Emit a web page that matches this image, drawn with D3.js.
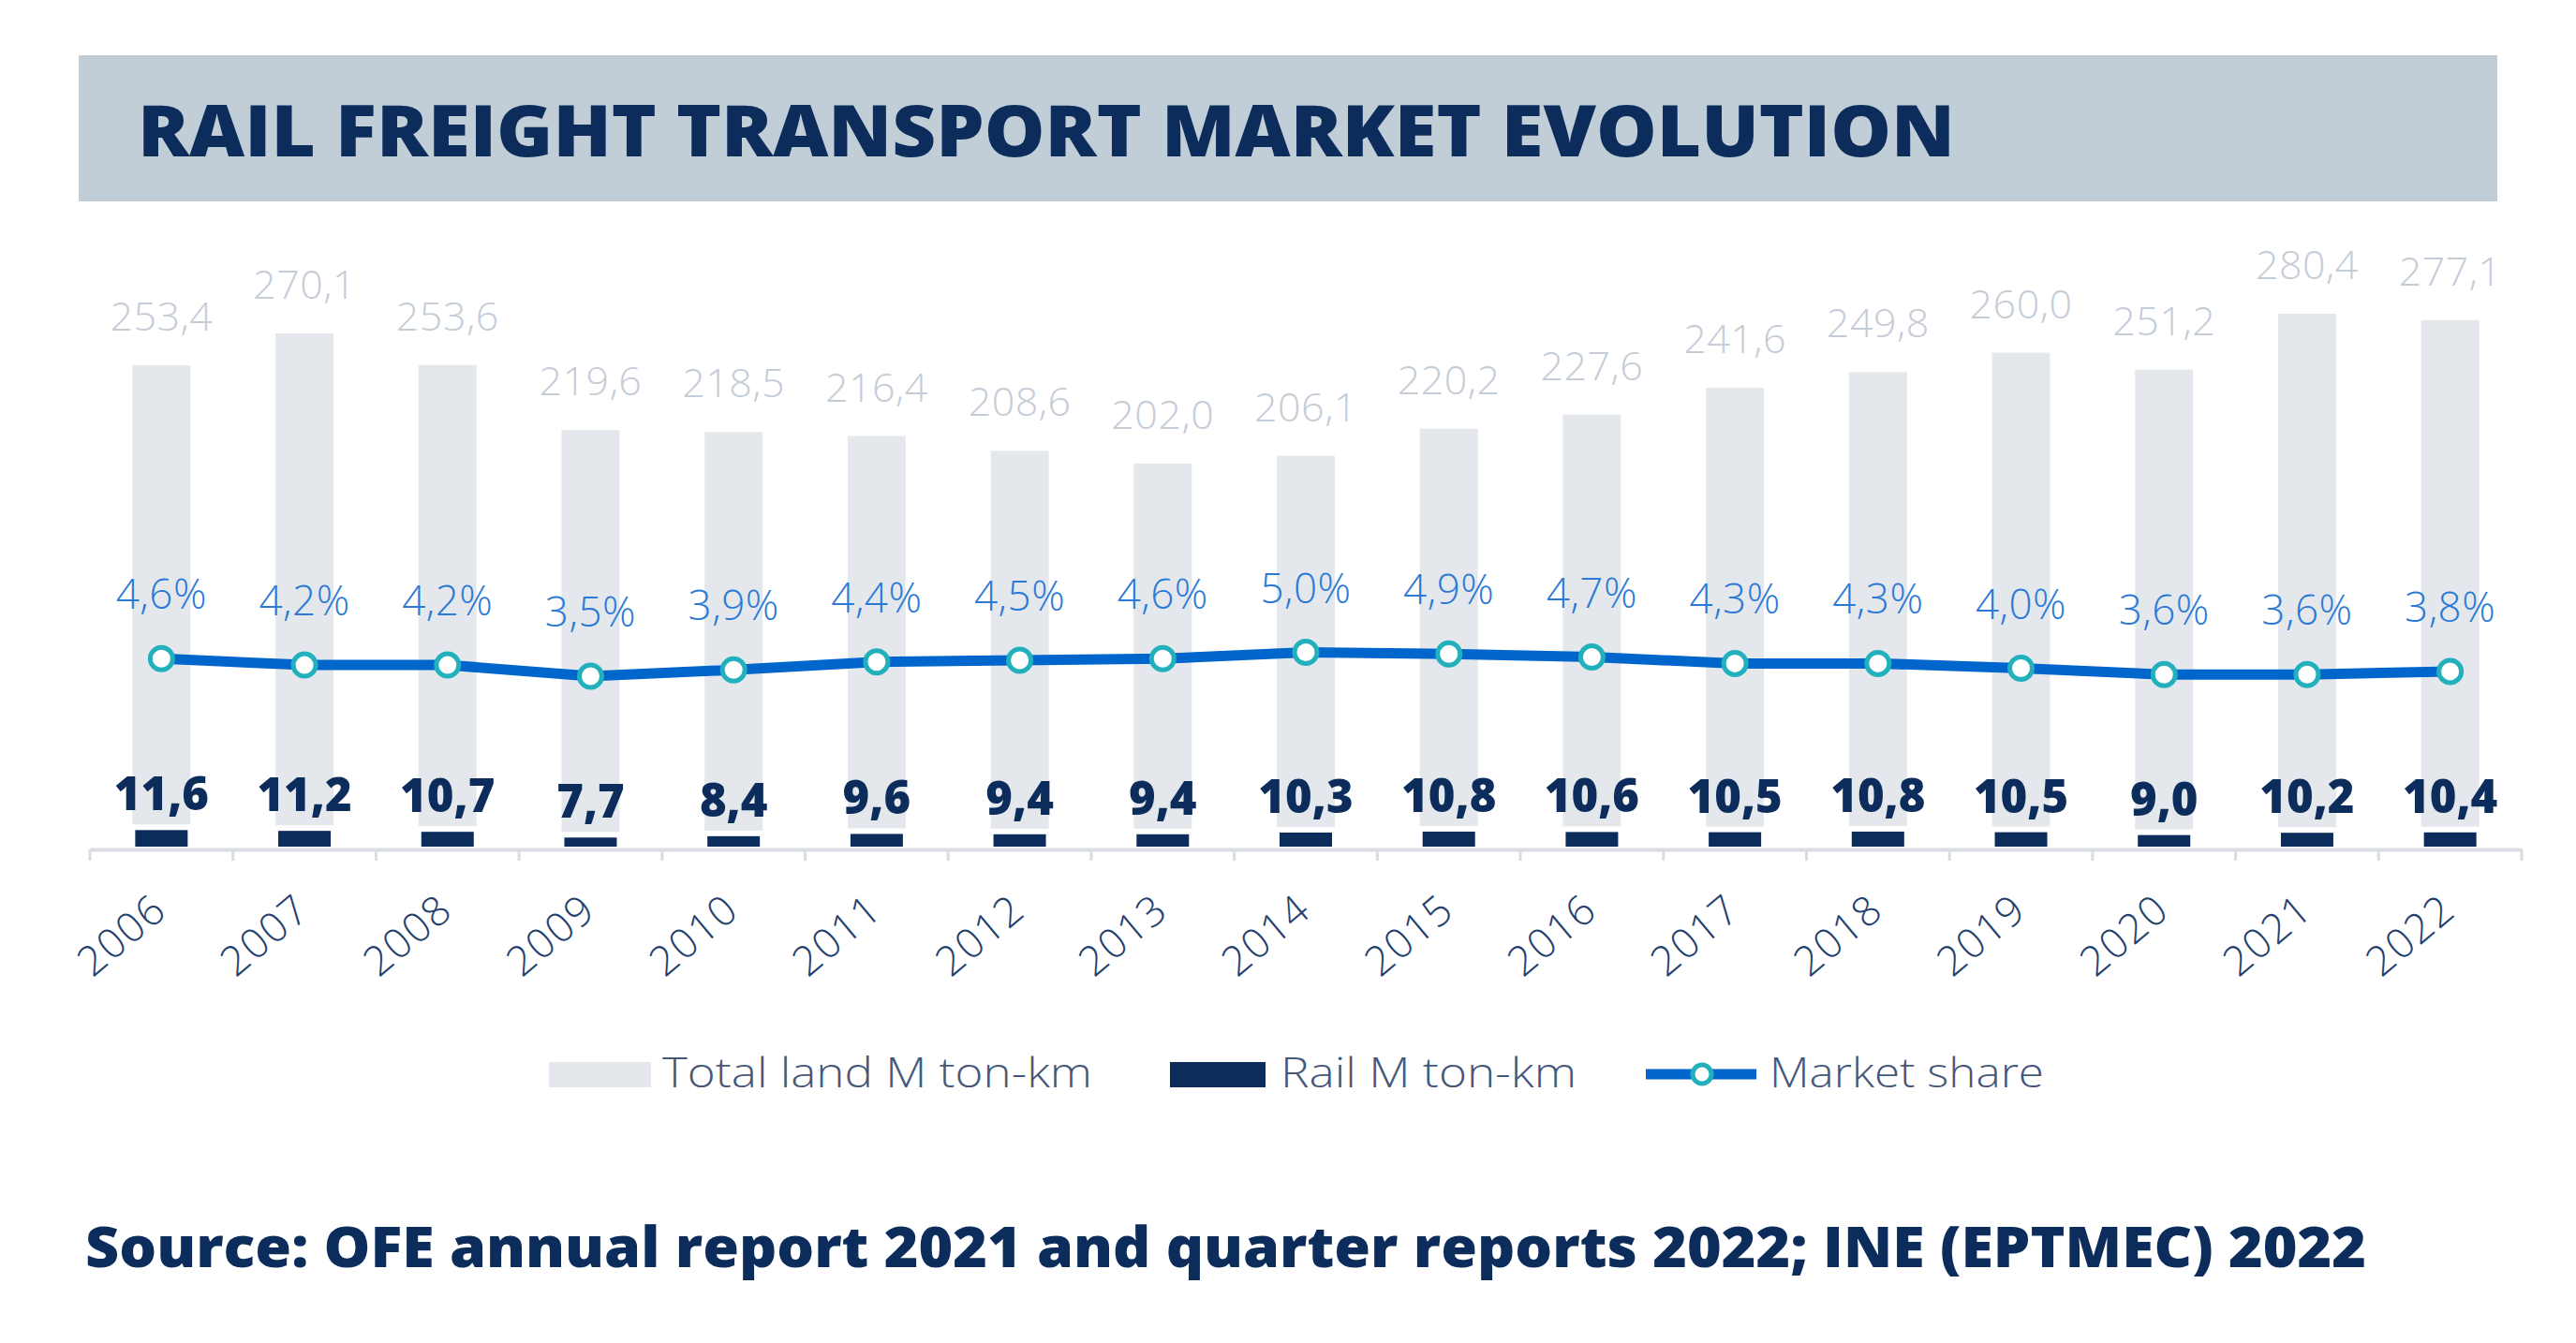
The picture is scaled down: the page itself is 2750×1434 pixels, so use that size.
<!DOCTYPE html>
<html>
<head>
<meta charset="utf-8">
<script src="https://cdn.jsdelivr.net/npm/d3@7"></script>
<style>
  body { margin: 0; background: #fff; }
  text { font-family: "Open Sans", "Lato", sans-serif; }
</style>
</head>
<body>
<svg id="chart"></svg>
<script>
// data
const years = ["2006","2007","2008","2009","2010","2011","2012","2013","2014",
               "2015","2016","2017","2018","2019","2020","2021","2022"];
const totalLand = [253.4,270.1,253.6,219.6,218.5,216.4,208.6,202.0,206.1,
                   220.2,227.6,241.6,249.8,260.0,251.2,280.4,277.1];
const railTonKm = [11.6,11.2,10.7,7.7,8.4,9.6,9.4,9.4,10.3,
                   10.8,10.6,10.5,10.8,10.5,9.0,10.2,10.4];
const marketShare = [4.6,4.2,4.2,3.5,3.9,4.4,4.5,4.6,5.0,
                     4.9,4.7,4.3,4.3,4.0,3.6,3.6,3.8];
const legendLabels = ["Total land M ton-km", "Rail M ton-km", "Market share"];

const W = 2750, H = 1434;
const navy = "#0c2d5c", lightBar = "#e4e8ed", lineBlue = "#0066cc", teal = "#22b0bd";

const es = d3.formatLocale({decimal: ",", thousands: ".", grouping: [3], currency: ["", "€"]});
const f1 = es.format(".1f");

const svg = d3.select("#chart").attr("width", W).attr("height", H);
svg.append("rect").attr("width", W).attr("height", H).attr("fill", "#fff");

// title band
svg.append("rect").attr("x", 84).attr("y", 59).attr("width", 2582).attr("height", 156)
  .attr("fill", "#c1cdd7");
svg.append("text").attr("x", 147).attr("y", 167)
  .attr("font-size", 76).attr("font-weight", 800).attr("fill", navy)
  .attr("textLength", 1940).attr("lengthAdjust", "spacingAndGlyphs")
  .text("RAIL FREIGHT TRANSPORT MARKET EVOLUTION");

const data = years.map((y, i) => ({year: y, total: totalLand[i], rail: railTonKm[i], share: marketShare[i]}));

const x = d3.scaleBand().domain(years).range([96, 2692]).paddingInner(0.594).paddingOuter(0.297);
const y = d3.scaleLinear().domain([0, 300]).range([907, 295]);
const yShare = d3.scaleLinear().domain([3.5, 5.0]).range([722, 696.5]);
const cx = d => x(d.year) + x.bandwidth() / 2;

// total land bars
svg.append("g").selectAll("rect").data(data).enter().append("rect")
  .attr("x", d => x(d.year))
  .attr("y", d => y(d.total))
  .attr("width", x.bandwidth())
  .attr("height", d => y(0) - y(d.total))
  .attr("fill", lightBar);

// rail bars
svg.append("g").selectAll("rect").data(data).enter().append("rect")
  .attr("x", d => x(d.year))
  .attr("y", d => y(d.rail))
  .attr("width", x.bandwidth())
  .attr("height", d => y(0) - y(d.rail))
  .attr("fill", navy)
  .attr("stroke", "#fff").attr("stroke-width", 6);

// x axis
const axis = svg.append("g").attr("transform", "translate(0,907)")
  .call(d3.axisBottom(x).tickSize(0).tickFormat(""));
axis.select(".domain").attr("stroke", "#d9dde3").attr("stroke-width", 4);
axis.selectAll(".tick line").remove();
svg.append("g").selectAll("line").data(years.concat(["end"])).enter().append("line")
  .attr("x1", (d, i) => x.range()[0] + i * x.step())
  .attr("x2", (d, i) => x.range()[0] + i * x.step())
  .attr("y1", 907).attr("y2", 919)
  .attr("stroke", "#d9dde3").attr("stroke-width", 3);

svg.append("g").selectAll("text").data(data).enter().append("text")
  .attr("transform", d => "translate(" + (cx(d) + 8) + ",976) rotate(-40)")
  .attr("text-anchor", "end")
  .attr("font-size", 44).attr("font-weight", 300).attr("fill", "#24416e")
  .attr("letter-spacing", 1.5)
  .text(d => d.year);

// total labels
svg.append("g").selectAll("text").data(data).enter().append("text")
  .attr("x", cx).attr("y", d => y(d.total) - 37)
  .attr("text-anchor", "middle")
  .attr("font-size", 43).attr("font-weight", 300).attr("fill", "#c4ccd7")
  .attr("letter-spacing", 0.5)
  .text(d => f1(d.total));

// rail labels
svg.append("g").selectAll("text").data(data).enter().append("text")
  .attr("x", cx).attr("y", d => y(d.rail) - 18)
  .attr("text-anchor", "middle")
  .attr("font-size", 49).attr("font-weight", 800).attr("fill", navy)
  .text(d => f1(d.rail));

// market share line
const line = d3.line().x(cx).y(d => yShare(d.share));
svg.append("path").datum(data)
  .attr("d", line).attr("fill", "none")
  .attr("stroke", lineBlue).attr("stroke-width", 11).attr("stroke-linejoin", "round");

svg.append("g").selectAll("circle").data(data).enter().append("circle")
  .attr("cx", cx).attr("cy", d => yShare(d.share)).attr("r", 12)
  .attr("fill", "#fff").attr("stroke", teal).attr("stroke-width", 5);

svg.append("g").selectAll("text").data(data).enter().append("text")
  .attr("x", cx).attr("y", d => yShare(d.share) - 53)
  .attr("text-anchor", "middle")
  .attr("font-size", 44).attr("font-weight", 300).attr("fill", "#2a7ad6")
  .attr("letter-spacing", 0.5)
  .text(d => f1(d.share) + "%");

// legend
const lg = svg.append("g");
const legendText = "#45587a";
lg.append("rect").attr("x", 586).attr("y", 1134).attr("width", 109).attr("height", 27).attr("fill", lightBar);
lg.append("text").attr("x", 707).attr("y", 1161).attr("font-size", 44).attr("font-weight", 300)
  .attr("fill", legendText).attr("textLength", 459).attr("lengthAdjust", "spacingAndGlyphs")
  .text(legendLabels[0]);
lg.append("rect").attr("x", 1249).attr("y", 1134).attr("width", 102).attr("height", 27).attr("fill", navy);
lg.append("text").attr("x", 1367).attr("y", 1161).attr("font-size", 44).attr("font-weight", 300)
  .attr("fill", legendText).attr("textLength", 316).attr("lengthAdjust", "spacingAndGlyphs")
  .text(legendLabels[1]);
lg.append("line").attr("x1", 1757).attr("x2", 1875).attr("y1", 1147).attr("y2", 1147)
  .attr("stroke", lineBlue).attr("stroke-width", 11);
lg.append("circle").attr("cx", 1817).attr("cy", 1147).attr("r", 10)
  .attr("fill", "#fff").attr("stroke", teal).attr("stroke-width", 5);
lg.append("text").attr("x", 1889).attr("y", 1161).attr("font-size", 44).attr("font-weight", 300)
  .attr("fill", legendText).attr("textLength", 293).attr("lengthAdjust", "spacingAndGlyphs")
  .text(legendLabels[2]);

// source
svg.append("text").attr("x", 91).attr("y", 1353)
  .attr("font-size", 60).attr("font-weight", 800).attr("fill", navy)
  .attr("textLength", 2435).attr("lengthAdjust", "spacingAndGlyphs")
  .text("Source: OFE annual report 2021 and quarter reports 2022; INE (EPTMEC) 2022");
</script>
</body>
</html>
